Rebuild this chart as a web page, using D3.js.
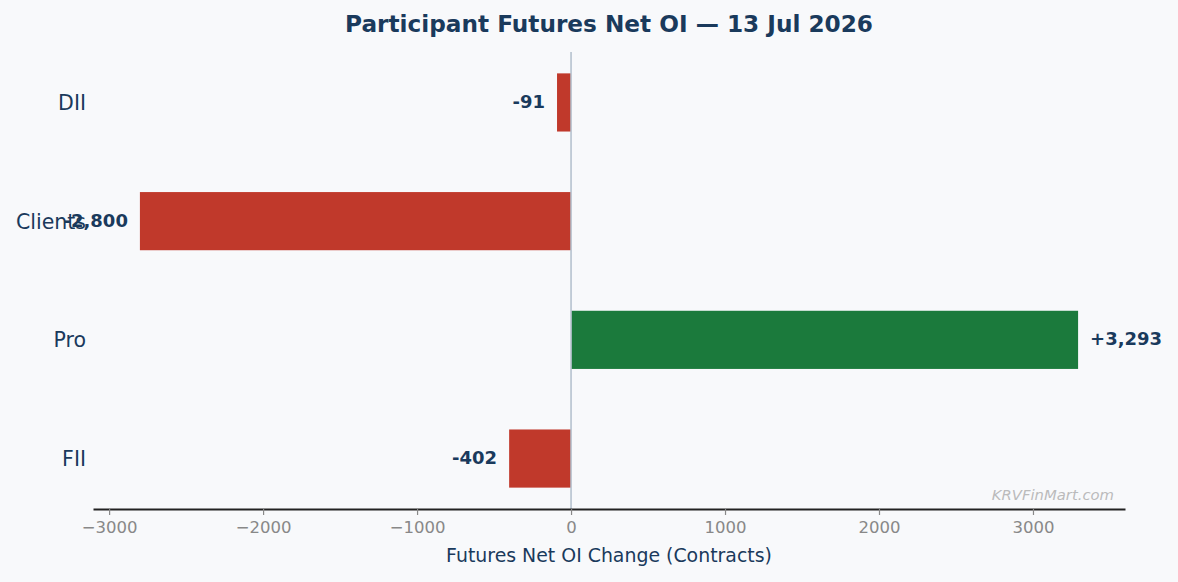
<!DOCTYPE html>
<html>
<head>
<meta charset="utf-8">
<script src="https://cdn.jsdelivr.net/npm/d3@7"></script>
<style>
  html, body { margin: 0; padding: 0; background: #f8f9fb; }
  svg { display: block; font-family: "DejaVu Sans", sans-serif; }
</style>
</head>
<body>
<svg id="chart"></svg>
<script>
// Data
const participants = ["FII", "Pro", "Clients", "DII"];
const netOiChange = [-402, 3293, -2800, -91];
const xTicks = [-3000, -2000, -1000, 0, 1000, 2000, 3000];
const chartTitle = "Participant Futures Net OI \u2014 13 Jul 2026";
const xLabel = "Futures Net OI Change (Contracts)";
const watermark = "KRVFinMart.com";

const data = participants.map((p, i) => ({ name: p, value: netOiChange[i] }));

const W = 1178, H = 582,
    margin = {top: 52, right: 53, bottom: 73, left: 93},
    width = W - margin.left - margin.right,
    height = H - margin.top - margin.bottom;

const navy = "#1a3a5c";

const svg = d3.select("#chart").attr("width", W).attr("height", H);
svg.append("rect").attr("width", W).attr("height", H).attr("fill", "#f8f9fb");

const g = svg.append("g").attr("transform", "translate(" + margin.left + "," + margin.top + ")");

// matplotlib-like 5% padding around the data range
const lo = d3.min(netOiChange), hi = d3.max(netOiChange), pad = (hi - lo) * 0.05;
const x = d3.scaleLinear().domain([lo - pad, hi + pad]).range([0, width]);
const y = d3.scaleBand()
    .domain(participants.slice().reverse())
    .range([0, height])
    .paddingInner(0.51)
    .paddingOuter(0.18);

// bars
g.selectAll(".bar")
  .data(data)
  .join("rect")
  .attr("class", "bar")
  .attr("x", d => x(Math.min(0, d.value)))
  .attr("y", d => y(d.name))
  .attr("width", d => Math.abs(x(d.value) - x(0)))
  .attr("height", y.bandwidth())
  .attr("fill", d => d.value >= 0 ? "#1b7a3c" : "#c0392b");

// zero line
g.append("line")
  .attr("x1", x(0)).attr("x2", x(0))
  .attr("y1", 0).attr("y2", height)
  .attr("stroke", "#b6c2cf")
  .attr("stroke-width", 1.6);

// x axis
const xAxis = g.append("g")
  .attr("transform", "translate(0," + height + ")")
  .call(d3.axisBottom(x).tickValues(xTicks).tickFormat(d3.format("d")).tickSize(6).tickSizeOuter(0).tickPadding(6));
xAxis.select(".domain").attr("stroke", "#222").attr("stroke-width", 1.8);
xAxis.selectAll(".tick line").attr("stroke", "#888").attr("stroke-width", 1.2);
xAxis.selectAll(".tick text")
  .attr("fill", "#888")
  .style("font-size", "16.5px")
  .style("font-family", "DejaVu Sans");

// y labels
g.selectAll(".ylab")
  .data(data)
  .join("text")
  .attr("class", "ylab")
  .attr("x", -7)
  .attr("y", d => y(d.name) + y.bandwidth() / 2)
  .attr("dy", "0.36em")
  .attr("text-anchor", "end")
  .attr("fill", navy)
  .style("font-size", "20.5px")
  .text(d => d.name);

// value labels
const fmt = d3.format(",");
g.selectAll(".val")
  .data(data)
  .join("text")
  .attr("class", "val")
  .attr("x", d => d.value >= 0 ? x(d.value) + 12 : x(d.value) - 12)
  .attr("y", d => y(d.name) + y.bandwidth() / 2)
  .attr("dy", "0.3em")
  .attr("text-anchor", d => d.value >= 0 ? "start" : "end")
  .attr("fill", navy)
  .style("font-size", "18px")
  .style("font-weight", "bold")
  .text(d => (d.value >= 0 ? "+" : "-") + fmt(Math.abs(d.value)));

// watermark
g.append("text")
  .attr("x", width - 11)
  .attr("y", height - 9)
  .attr("text-anchor", "end")
  .attr("fill", "#bbbbbb")
  .style("font-size", "14.8px")
  .style("font-style", "italic")
  .text(watermark);

// x label
g.append("text")
  .attr("x", width / 2)
  .attr("y", height + 53)
  .attr("text-anchor", "middle")
  .attr("fill", navy)
  .style("font-size", "18.9px")
  .text(xLabel);

// title
svg.append("text")
  .attr("x", margin.left + width / 2)
  .attr("y", 32)
  .attr("text-anchor", "middle")
  .attr("fill", navy)
  .style("font-size", "23.2px")
  .style("font-weight", "bold")
  .text(chartTitle);
</script>
</body>
</html>
